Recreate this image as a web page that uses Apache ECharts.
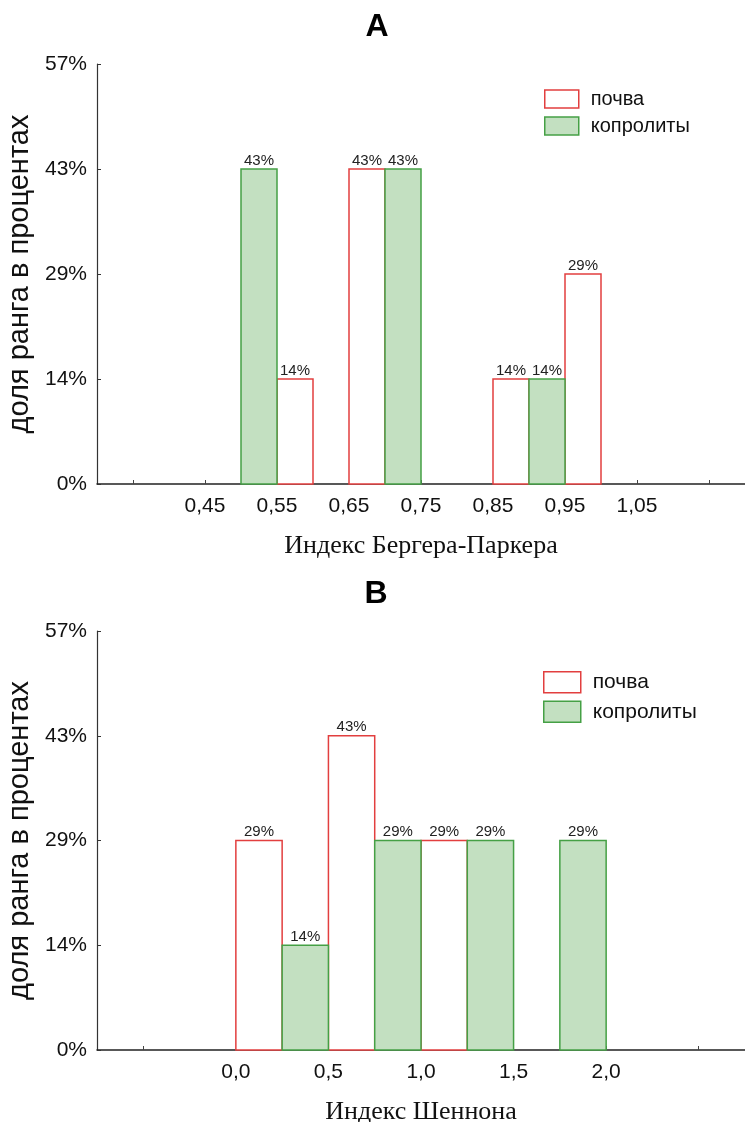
<!DOCTYPE html>
<html>
<head>
<meta charset="utf-8">
<script src="https://cdn.jsdelivr.net/npm/echarts@6/dist/echarts.min.js"></script>
<style>
  html, body { margin: 0; padding: 0; background: #fff; }
  #chart { width: 745px; height: 1122px; }
</style>
</head>
<body>
<div id="chart"></div>
<script>
// Berger–Parker index: bins of width 0.10, coprolites in the left half, soil in the right half
const bpBinStart = [0.50, 0.60, 0.70, 0.80, 0.90];
const bpBinWidth = 0.10;
const bpSoil = [14.29, 42.86, 0, 14.29, 28.57];
const bpCoprolite = [42.86, 0, 42.86, 0, 14.29];
const bpTickMarks = [0.35, 0.45, 0.55, 0.65, 0.75, 0.85, 0.95, 1.05, 1.15];
const bpTickLabels = [0.45, 0.55, 0.65, 0.75, 0.85, 0.95, 1.05];

// Shannon index: bins of width 0.5, soil in the left half, coprolites in the right half
const shBinStart = [0.0, 0.5, 1.0, 1.5];
const shBinWidth = 0.5;
const shSoil = [28.57, 42.86, 28.57, 0];
const shCoprolite = [14.29, 28.57, 28.57, 28.57];
const shTickMarks = [-0.5, 0.0, 0.5, 1.0, 1.5, 2.0, 2.5];
const shTickLabels = [0.0, 0.5, 1.0, 1.5, 2.0];

const seriesNames = ['почва', 'копролиты'];
const yAxisName = 'доля ранга в процентах';

const SANS = '"Liberation Sans", Arial, sans-serif';
const SERIF = '"Liberation Serif", "Times New Roman", serif';
const RED = '#e23f3f';
const GREEN_FILL = '#c3e0c1';
const GREEN_LINE = '#45a045';

function halves(starts, width, values, side) {
  // side 0 = left half of the bin, 1 = right half
  const half = width / 2;
  const out = [];
  starts.forEach((s, i) => {
    if (values[i] > 0) {
      const a = +(s + side * half).toFixed(4);
      out.push([a, +(a + half).toFixed(4), values[i]]);
    }
  });
  return out;
}

function renderBar(fill, stroke) {
  return function (params, api) {
    const p0 = api.coord([api.value(0), 0]);
    const p1 = api.coord([api.value(1), api.value(2)]);
    return {
      type: 'group',
      children: [
        {
          type: 'rect',
          shape: { x: p0[0], y: p1[1], width: p1[0] - p0[0], height: p0[1] - p1[1] },
          style: { fill: fill, stroke: stroke, lineWidth: 1.5 }
        },
        {
          type: 'text',
          style: {
            text: Math.round(api.value(2)) + '%',
            x: (p0[0] + p1[0]) / 2,
            y: p1[1] - 1,
            align: 'center',
            verticalAlign: 'bottom',
            fontSize: 15,
            fontFamily: SANS,
            fill: '#222'
          }
        }
      ]
    };
  };
}

function yAxis(gridIndex) {
  return {
    type: 'value', gridIndex: gridIndex,
    min: 0, max: 57.1428, interval: 14.2857,
    name: yAxisName, nameLocation: 'middle', nameGap: 51, nameRotate: 90,
    nameTextStyle: { fontSize: 29, fontFamily: SANS, color: '#111' },
    axisLine: { show: true, onZero: false, lineStyle: { color: '#333', width: 1.2 } },
    axisTick: { show: true, inside: true, length: 4, lineStyle: { color: '#333' } },
    axisLabel: { fontSize: 21, fontFamily: SANS, color: '#111', margin: 10,
      formatter: v => Math.round(v) + '%' },
    splitLine: { show: false }
  };
}

function xAxis(gridIndex, min, max, ticks, labels, digits, name) {
  return {
    type: 'value', gridIndex: gridIndex, min: min, max: max,
    name: name, nameLocation: 'middle', nameGap: 49,
    nameTextStyle: { fontSize: 26, fontFamily: SERIF, color: '#111' },
    axisLine: { show: true, onZero: false, lineStyle: { color: '#222', width: 1.5 } },
    axisTick: { show: true, inside: true, length: 4, customValues: ticks, lineStyle: { color: '#444' } },
    axisLabel: { fontSize: 21, fontFamily: SANS, color: '#111', margin: 12, customValues: labels,
      formatter: v => v.toFixed(digits).replace('.', ',') },
    splitLine: { show: false }
  };
}

function legend(left, top, w, h, fs) {
  return {
    orient: 'vertical', left: left, top: top, padding: 0,
    itemWidth: w, itemHeight: h, itemGap: 7,
    icon: 'rect',
    selectedMode: false,
    textStyle: { fontSize: fs, fontFamily: SANS, color: '#111', padding: [0, 0, 0, 7] },
    data: [
      { name: seriesNames[0], itemStyle: { color: '#fff', borderColor: RED, borderWidth: 1.5 } },
      { name: seriesNames[1], itemStyle: { color: GREEN_FILL, borderColor: GREEN_LINE, borderWidth: 1.5 } }
    ]
  };
}

const chart = echarts.init(document.getElementById('chart'), null, { renderer: 'canvas' });
chart.setOption({
  animation: false,
  backgroundColor: '#fff',
  graphic: [
    { type: 'text', style: { text: 'A', x: 377, y: 27, align: 'center', verticalAlign: 'middle',
      fontSize: 32, fontWeight: 'bold', fontFamily: SANS, fill: '#000' } },
    { type: 'text', style: { text: 'B', x: 376, y: 594, align: 'center', verticalAlign: 'middle',
      fontSize: 32, fontWeight: 'bold', fontFamily: SANS, fill: '#000' } }
  ],
  legend: [legend(544, 89, 34, 18, 20), legend(543, 671, 37, 21, 21)],
  grid: [
    { left: 97, top: 64, right: 0, height: 420, containLabel: false, outerBoundsMode: 'none' },
    { left: 97, top: 631, right: 0, height: 419, containLabel: false, outerBoundsMode: 'none' }
  ],
  xAxis: [
    xAxis(0, 0.30, 1.20, bpTickMarks, bpTickLabels, 2, 'Индекс Бергера-Паркера'),
    xAxis(1, -0.75, 2.75, shTickMarks, shTickLabels, 1, 'Индекс Шеннона')
  ],
  yAxis: [yAxis(0), yAxis(1)],
  series: [
    { type: 'custom', name: seriesNames[0], xAxisIndex: 0, yAxisIndex: 0,
      itemStyle: { color: '#fff', borderColor: RED },
      renderItem: renderBar('#fff', RED), data: halves(bpBinStart, bpBinWidth, bpSoil, 1) },
    { type: 'custom', name: seriesNames[1], xAxisIndex: 0, yAxisIndex: 0,
      itemStyle: { color: GREEN_FILL, borderColor: GREEN_LINE },
      renderItem: renderBar(GREEN_FILL, GREEN_LINE), data: halves(bpBinStart, bpBinWidth, bpCoprolite, 0) },
    { type: 'custom', name: seriesNames[0], xAxisIndex: 1, yAxisIndex: 1,
      itemStyle: { color: '#fff', borderColor: RED },
      renderItem: renderBar('#fff', RED), data: halves(shBinStart, shBinWidth, shSoil, 0) },
    { type: 'custom', name: seriesNames[1], xAxisIndex: 1, yAxisIndex: 1,
      itemStyle: { color: GREEN_FILL, borderColor: GREEN_LINE },
      renderItem: renderBar(GREEN_FILL, GREEN_LINE), data: halves(shBinStart, shBinWidth, shCoprolite, 1) }
  ]
});
</script>
</body>
</html>
